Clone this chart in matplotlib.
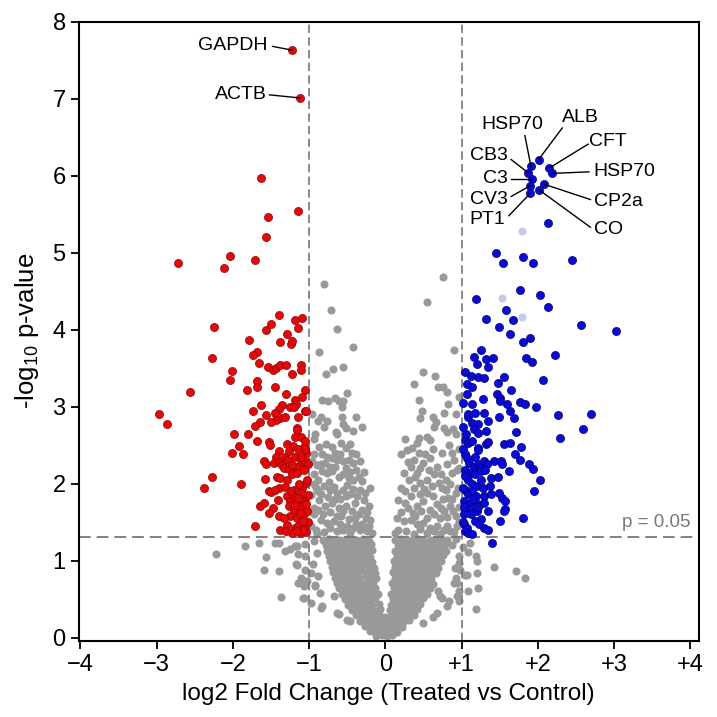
import matplotlib
matplotlib.use("Agg")
import matplotlib.pyplot as plt

plt.rcParams['font.family'] = ['Liberation Sans', 'DejaVu Sans']
plt.rcParams['mathtext.fontset'] = 'custom'
plt.rcParams['mathtext.rm'] = 'Liberation Sans'
plt.rcParams['mathtext.it'] = 'Liberation Sans:italic'
plt.rcParams['axes.unicode_minus'] = True

# ---------------- data (log2FC, -log10 p) ----------------
gray_pts = [
    # sparse upper gray
    (-0.81, 4.59), (-0.71, 4.26), (-0.63, 4.01), (-0.87, 3.71), (-0.42, 3.78),
    (0.75, 4.68), (0.55, 4.36), (0.90, 3.73),
    (-0.69, 3.49), (-0.78, 3.42), (-0.55, 3.52), (0.49, 3.45), (0.65, 3.40),
    (0.37, 3.29), (0.69, 3.25), (0.75, 3.25), (0.81, 3.19), (-0.50, 3.18),
    (-0.83, 3.09), (-0.75, 3.08), (-0.66, 3.11), (-0.61, 3.07), (-0.55, 3.08),
    (0.44, 3.09), (0.96, 3.12), (0.82, 3.03), (-0.57, 2.99), (-0.96, 2.90),
    (-0.84, 2.87), (0.48, 2.94), (0.77, 2.92), (0.92, 2.91), (-0.57, 2.87),
    (-0.39, 2.86), (-0.89, 2.81), (-0.76, 2.81), (0.45, 2.85), (0.63, 2.87),
    (-0.81, 2.74), (-0.55, 2.78), (-0.52, 2.72), (-0.31, 2.73), (-0.42, 2.68),
    (0.67, 2.80), (0.64, 2.74), (0.77, 2.72), (0.81, 2.67), (0.89, 2.71),
    (-0.92, 2.65), (-0.93, 2.58), (-0.65, 2.67), (-0.63, 2.64), (0.26, 2.58),
    (0.44, 2.59), (0.42, 2.53), (0.54, 2.61), (0.59, 2.57), (-0.58, 2.53),
    (-0.94, 2.38), (-0.85, 2.25), (-0.94, 1.99), (-0.94, 1.69),
    # upper arms of the V (1.3 - 2.5)
    (-0.83, 2.38), (-0.76, 2.35), (-0.70, 2.33), (-0.63, 2.31), (-0.59, 2.38),
    (-0.55, 2.29), (-0.48, 2.31), (-0.44, 2.40), (-0.42, 2.27),
    (-0.83, 2.16), (-0.76, 2.14), (-0.70, 2.16), (-0.61, 2.09), (-0.55, 2.12),
    (-0.48, 2.07), (-0.42, 2.05), (-0.35, 2.09), (-0.31, 2.03), (-0.20, 1.94),
    (-0.81, 1.97), (-0.72, 1.92), (-0.63, 1.88), (-0.55, 1.92), (-0.46, 1.86),
    (-0.37, 1.84), (-0.28, 1.79), (-0.22, 1.71),
    (-0.87, 1.79), (-0.79, 1.71), (-0.70, 1.75), (-0.61, 1.68), (-0.52, 1.71),
    (-0.44, 1.64), (-0.35, 1.60), (-0.26, 1.55), (-0.20, 1.53),
    (-0.94, 1.60), (-0.85, 1.53), (-0.76, 1.49), (-0.68, 1.51), (-0.59, 1.47),
    (-0.50, 1.45), (-0.42, 1.42), (-0.33, 1.40), (-0.24, 1.38), (-0.17, 1.36),
    (-0.97, 1.45), (-0.95, 1.62), (-0.97, 1.85), (-0.94, 2.12), (-0.96, 2.30),
    (-0.91, 1.40), (-0.88, 1.90), (-0.66, 1.80), (-0.50, 1.98), (-0.40, 1.75),
    (-0.74, 2.02), (-0.58, 1.58), (-0.30, 1.48), (-0.88, 2.05), (-0.66, 2.22),
    (-0.90, 1.34), (-0.80, 1.37), (-0.72, 1.42), (-0.64, 1.38), (-0.55, 1.40),
    (-0.46, 1.36), (-0.38, 1.47), (-0.28, 1.44), (-0.21, 1.45),
    (-0.89, 1.66), (-0.82, 1.60), (-0.73, 1.63), (-0.64, 1.58), (-0.56, 1.65),
    (-0.48, 1.54), (-0.40, 1.55), (-0.31, 1.66), (-0.24, 1.63),
    (-0.91, 1.95), (-0.84, 1.86), (-0.75, 1.83), (-0.68, 1.96), (-0.59, 1.80),
    (-0.51, 1.84), (-0.43, 1.93), (-0.33, 1.92), (-0.27, 1.88),
    (-0.90, 2.24), (-0.79, 2.27), (-0.72, 2.22), (-0.66, 2.40), (-0.51, 2.20),
    (-0.46, 2.15), (-0.38, 2.18), (-0.28, 2.15),
    (-0.87, 2.48), (-0.78, 2.52), (-0.70, 2.47), (-0.52, 2.46), (-0.46, 2.52),
    (-0.38, 2.38), (-0.33, 2.30),
    (0.20, 2.38), (0.28, 2.44), (0.37, 2.31), (0.44, 2.40), (0.50, 2.27),
    (0.59, 2.33), (0.68, 2.22), (0.74, 2.40), (0.81, 2.25), (0.90, 2.31),
    (0.94, 2.18), (0.87, 2.14),
    (0.24, 2.14), (0.31, 2.05), (0.39, 2.09), (0.46, 2.01), (0.55, 2.05),
    (0.61, 1.97), (0.70, 2.01), (0.79, 1.92), (0.85, 1.99), (0.92, 1.88),
    (0.17, 1.79), (0.26, 1.75), (0.33, 1.84), (0.42, 1.71), (0.50, 1.77),
    (0.59, 1.66), (0.68, 1.73), (0.77, 1.64), (0.85, 1.71), (0.92, 1.58),
    (0.15, 1.55), (0.24, 1.51), (0.33, 1.53), (0.42, 1.47), (0.50, 1.49),
    (0.59, 1.42), (0.68, 1.45), (0.77, 1.40), (0.85, 1.38), (0.94, 1.45),
    (0.96, 1.50), (0.97, 1.70), (0.95, 1.95), (0.97, 2.20), (0.96, 2.45),
    (0.93, 2.65), (0.20, 1.95), (0.36, 1.62), (0.55, 1.88), (0.72, 1.55),
    (0.64, 2.12), (0.46, 2.20), (0.30, 2.28), (0.82, 1.82), (0.13, 1.36),
    (0.17, 1.40), (0.27, 1.38), (0.37, 1.35), (0.46, 1.41), (0.55, 1.36),
    (0.64, 1.39), (0.72, 1.34), (0.81, 1.45), (0.90, 1.37),
    (0.20, 1.63), (0.30, 1.68), (0.39, 1.58), (0.47, 1.64), (0.55, 1.56),
    (0.64, 1.60), (0.73, 1.68), (0.81, 1.57), (0.89, 1.64),
    (0.26, 1.90), (0.38, 1.95), (0.45, 1.86), (0.51, 1.93), (0.62, 1.84),
    (0.75, 1.80), (0.88, 1.80), (0.74, 1.94),
    (0.34, 2.22), (0.42, 2.14), (0.57, 2.18), (0.73, 2.12), (0.80, 2.05),
    (0.88, 2.40), (0.62, 2.45), (0.52, 2.38), (0.35, 2.46), (0.84, 2.50),
    # dense lobes below threshold
    (-0.82, 1.27), (-0.74, 1.28), (-0.67, 1.26), (-0.59, 1.27), (-0.52, 1.28), (-0.44, 1.26), (-0.37, 1.27), (-0.29, 1.28), (-0.21, 1.26),
    (0.13, 1.27), (0.20, 1.28), (0.28, 1.26), (0.35, 1.27), (0.43, 1.28), (0.50, 1.26), (0.58, 1.27), (0.66, 1.28), (0.73, 1.26), (0.81, 1.27),
    (-0.78, 1.20), (-0.70, 1.19), (-0.63, 1.21), (-0.55, 1.20), (-0.48, 1.19), (-0.40, 1.21), (-0.33, 1.20), (-0.25, 1.19), (-0.19, 1.21),
    (0.16, 1.20), (0.24, 1.19), (0.31, 1.21), (0.39, 1.20), (0.47, 1.19), (0.54, 1.21), (0.62, 1.20), (0.70, 1.19), (0.78, 1.21),
    (-0.77, 1.13), (-0.69, 1.12), (-0.61, 1.14), (-0.54, 1.13), (-0.46, 1.12), (-0.39, 1.14), (-0.31, 1.13), (-0.24, 1.12), (-0.18, 1.14),
    (0.12, 1.13), (0.19, 1.12), (0.27, 1.14), (0.35, 1.13), (0.42, 1.12), (0.50, 1.14), (0.57, 1.13), (0.65, 1.12), (0.72, 1.14), (0.79, 1.13),
    (-0.74, 1.06), (-0.66, 1.05), (-0.58, 1.07), (-0.51, 1.06), (-0.43, 1.05), (-0.35, 1.07), (-0.28, 1.06), (-0.20, 1.05),
    (0.15, 1.06), (0.23, 1.05), (0.31, 1.07), (0.38, 1.06), (0.46, 1.05), (0.53, 1.07), (0.61, 1.06), (0.69, 1.05), (0.76, 1.07),
    (-0.73, 0.99), (-0.65, 0.98), (-0.57, 1.00), (-0.49, 0.99), (-0.41, 0.98), (-0.33, 1.00), (-0.25, 0.99), (-0.17, 0.98),
    (0.11, 0.99), (0.19, 0.98), (0.27, 1.00), (0.34, 0.99), (0.42, 0.98), (0.50, 1.00), (0.57, 0.99), (0.65, 0.98), (0.73, 1.00),
    (-0.70, 0.92), (-0.62, 0.91), (-0.54, 0.93), (-0.46, 0.92), (-0.38, 0.91), (-0.30, 0.93), (-0.22, 0.92), (-0.15, 0.91),
    (0.13, 0.92), (0.21, 0.91), (0.29, 0.93), (0.37, 0.92), (0.45, 0.91), (0.53, 0.93), (0.61, 0.92), (0.69, 0.91),
    (-0.69, 0.85), (-0.61, 0.84), (-0.53, 0.86), (-0.45, 0.85), (-0.37, 0.84), (-0.29, 0.86), (-0.21, 0.85), (-0.13, 0.84),
    (0.10, 0.85), (0.17, 0.84), (0.25, 0.86), (0.33, 0.85), (0.41, 0.84), (0.49, 0.86), (0.57, 0.85), (0.66, 0.84),
    (-0.66, 0.78), (-0.58, 0.77), (-0.50, 0.79), (-0.42, 0.78), (-0.34, 0.77), (-0.26, 0.79), (-0.19, 0.78), (-0.12, 0.77),
    (0.12, 0.78), (0.20, 0.77), (0.28, 0.79), (0.36, 0.78), (0.44, 0.77), (0.52, 0.79), (0.60, 0.78),
    (-0.64, 0.71), (-0.56, 0.70), (-0.48, 0.72), (-0.40, 0.71), (-0.32, 0.70), (-0.24, 0.72), (-0.16, 0.71),
    (0.09, 0.71), (0.16, 0.70), (0.24, 0.72), (0.32, 0.71), (0.40, 0.70), (0.48, 0.72), (0.56, 0.71), (0.62, 0.70),
    (-0.61, 0.64), (-0.53, 0.63), (-0.45, 0.65), (-0.37, 0.64), (-0.29, 0.63), (-0.21, 0.65), (-0.13, 0.64),
    (0.11, 0.64), (0.19, 0.63), (0.27, 0.65), (0.35, 0.64), (0.43, 0.63), (0.51, 0.65), (0.58, 0.64),
    (-0.57, 0.57), (-0.49, 0.56), (-0.41, 0.58), (-0.33, 0.57), (-0.25, 0.56), (-0.17, 0.58), (-0.10, 0.57),
    (0.08, 0.57), (0.15, 0.56), (0.23, 0.58), (0.31, 0.57), (0.39, 0.56), (0.47, 0.58), (0.54, 0.57),
    (-0.53, 0.50), (-0.45, 0.49), (-0.37, 0.51), (-0.29, 0.50), (-0.21, 0.49), (-0.13, 0.51),
    (0.10, 0.50), (0.18, 0.49), (0.26, 0.51), (0.34, 0.50), (0.42, 0.49), (0.50, 0.51),
    (-0.49, 0.43), (-0.41, 0.42), (-0.33, 0.44), (-0.25, 0.43), (-0.17, 0.42), (-0.09, 0.44),
    (0.07, 0.43), (0.14, 0.42), (0.22, 0.44), (0.30, 0.43), (0.38, 0.42), (0.46, 0.44),
    (-0.44, 0.36), (-0.36, 0.35), (-0.28, 0.37), (-0.20, 0.36), (-0.12, 0.35), (-0.07, 0.37),
    (0.06, 0.36), (0.11, 0.35), (0.19, 0.37), (0.27, 0.36), (0.35, 0.35), (0.42, 0.37),
    (-0.39, 0.29), (-0.31, 0.28), (-0.23, 0.30), (-0.15, 0.29), (-0.07, 0.28), (0.00, 0.27),
    (0.07, 0.28), (0.15, 0.30), (0.23, 0.29), (0.30, 0.28), (0.37, 0.30),
    (-0.33, 0.22), (-0.26, 0.21), (-0.18, 0.23), (-0.11, 0.22), (-0.04, 0.21), (0.04, 0.22),
    (0.11, 0.23), (0.18, 0.21), (0.25, 0.22), (0.31, 0.23),
    (-0.27, 0.15), (-0.20, 0.14), (-0.13, 0.16), (-0.06, 0.15), (0.01, 0.14), (0.08, 0.16),
    (0.15, 0.15), (0.22, 0.14),
    (-0.20, 0.08), (-0.13, 0.09), (-0.06, 0.07), (0.01, 0.08), (0.08, 0.09), (0.15, 0.07),
    (-0.12, 0.02), (-0.05, 0.03), (0.02, 0.02), (0.09, 0.03),
    # fringe below threshold
    (-0.84, 0.39), (-0.92, 0.67), (-0.61, 0.31), (-0.46, 0.22), (-1.31, 1.13),
    (-1.16, 0.94), (-1.10, 0.77), (-1.03, 0.74), (-1.37, 0.53), (-1.08, 0.52),
    (-1.25, 1.15), (-1.18, 1.19), (-1.14, 1.08), (-1.17, 0.95), (-1.06, 0.88),
    (-1.14, 0.71), (-1.09, 0.75), (-1.06, 1.21), (-2.22, 1.09), (-1.84, 1.19),
    (-1.66, 1.23), (-1.45, 1.23), (-1.39, 1.23), (-1.57, 1.05), (-1.59, 0.88),
    (-1.39, 0.87), (-1.07, 0.51), (-1.07, 0.67), (-0.83, 0.41), (-0.92, 0.69),
    (-1.16, 1.19), (-1.05, 1.06), (-0.98, 0.84), (-0.68, 0.54), (-0.50, 0.23),
    (-0.63, 0.32), (-0.90, 1.10), (-0.95, 0.95), (-0.88, 0.80), (-0.93, 1.25),
    (-0.86, 0.58), (-0.98, 0.45),
    (1.42, 0.92), (1.72, 0.86), (1.83, 0.78), (1.19, 1.06), (1.20, 0.99),
    (1.08, 1.11), (1.11, 1.23), (1.20, 0.84), (1.07, 0.81), (1.21, 0.64),
    (1.08, 0.61), (1.19, 0.37), (0.96, 1.06), (0.97, 0.97), (0.98, 0.88),
    (0.94, 0.71), (0.96, 0.60), (0.96, 0.47), (1.04, 0.82), (0.91, 0.91),
    (0.93, 0.78), (0.74, 0.52), (0.62, 0.27), (0.83, 0.48), (0.69, 0.61),
    (0.90, 0.71), (0.94, 0.54), (0.68, 0.32), (0.50, 0.19), (0.81, 0.41),
    (0.72, 0.54), (0.88, 1.20), (0.92, 1.28), (1.02, 1.18),
]

red_pts = [
    (-1.22, 7.63), (-1.12, 7.01), (-1.63, 5.97), (-1.14, 5.54), (-1.54, 5.47),
    (-1.57, 5.20), (-2.72, 4.87), (-2.04, 4.96), (-2.11, 4.80), (-1.71, 4.90),
    (-1.39, 4.19), (-1.09, 4.15), (-1.19, 4.13), (-1.50, 4.08), (-1.14, 4.02),
    (-1.57, 4.00), (-2.25, 4.03), (-1.29, 3.94), (-1.79, 3.86), (-1.38, 3.84),
    (-1.24, 3.82), (-1.23, 3.85), (-1.68, 3.71), (-1.74, 3.67), (-2.27, 3.63),
    (-1.66, 3.57), (-1.54, 3.51), (-1.47, 3.48), (-1.43, 3.50), (-1.38, 3.54),
    (-1.30, 3.54), (-1.11, 3.54), (-1.10, 3.47), (-1.22, 3.42), (-2.01, 3.46),
    (-2.04, 3.34), (-1.68, 3.33), (-1.69, 3.25), (-1.82, 3.21), (-1.45, 3.25),
    (-2.56, 3.19), (-1.05, 3.22), (-1.30, 3.16), (-1.09, 3.12), (-1.19, 3.09),
    (-1.17, 3.04), (-1.35, 3.02), (-1.25, 3.00), (-1.20, 3.00), (-1.40, 2.97),
    (-1.05, 2.95), (-1.63, 3.02), (-1.73, 2.94), (-2.97, 2.91), (-2.87, 2.77),
    (-1.57, 2.89), (-1.45, 2.92), (-1.38, 2.85), (-1.32, 2.87), (-1.43, 2.83),
    (-1.15, 2.87), (-1.04, 2.94), (-1.64, 2.80), (-1.50, 2.80), (-1.71, 2.75),
    (-1.16, 2.72), (-1.99, 2.64), (-1.80, 2.64), (-1.69, 2.56), (-1.16, 2.70),
    (-1.19, 2.61), (-1.11, 2.61), (-1.52, 2.54), (-1.51, 2.50), (-1.29, 2.52),
    (-1.92, 2.49), (-2.01, 2.40), (-1.87, 2.39), (-1.40, 2.43), (-1.21, 2.49),
    (-1.07, 2.48), (-1.04, 2.40), (-1.43, 2.35), (-1.32, 2.35), (-1.28, 2.31),
    (-1.59, 2.29), (-1.56, 2.26), (-1.46, 2.27), (-1.40, 2.28), (-1.35, 2.24),
    (-1.18, 2.35), (-1.11, 2.27), (-1.16, 2.22), (-1.06, 2.29), (-1.33, 2.20),
    (-1.26, 2.19), (-2.27, 2.09), (-2.38, 1.94), (-1.90, 1.99), (-1.58, 2.06),
    (-1.42, 2.09), (-1.38, 2.07), (-1.29, 2.05), (-1.22, 2.12), (-1.16, 2.14),
    (-1.07, 2.18), (-1.53, 1.90), (-1.50, 1.89), (-1.40, 1.94), (-1.31, 1.96),
    (-1.20, 1.92), (-1.09, 1.94), (-1.04, 2.01), (-1.41, 1.79), (-1.29, 1.84),
    (-1.25, 1.77), (-1.19, 1.83), (-1.14, 1.75), (-1.07, 1.79), (-1.65, 1.71),
    (-1.59, 1.75), (-1.47, 1.69), (-1.53, 1.62), (-1.27, 1.71), (-1.20, 1.66),
    (-1.11, 1.70), (-1.04, 1.73), (-1.39, 1.58), (-1.25, 1.58), (-1.16, 1.55),
    (-1.07, 1.60), (-1.71, 1.45), (-1.29, 1.46), (-1.38, 1.40), (-1.19, 1.42),
    (-1.14, 1.45), (-1.05, 1.45), (-1.22, 1.36), (-1.11, 1.36), (-1.04, 1.37),
    (-1.02, 1.50), (-1.03, 1.65), (-1.02, 1.85), (-1.03, 2.05), (-1.02, 2.25),
    (-1.05, 2.45), (-1.08, 1.52), (-1.12, 1.62), (-1.09, 1.88), (-1.13, 2.00),
    (-1.15, 1.82), (-1.18, 1.72), (-1.24, 1.90), (-1.10, 2.35), (-1.14, 2.45),
    (-1.05, 2.55), (-1.26, 2.42), (-1.08, 1.40), (-1.16, 1.38), (-1.30, 1.38),
    (-1.33, 1.55), (-1.45, 1.92), (-1.22, 2.24),
]

blue_pts = [
    (2.01, 6.21), (1.91, 6.12), (1.87, 6.04), (2.15, 6.10), (2.19, 6.03),
    (1.92, 5.96), (1.90, 5.87), (2.08, 5.89), (2.01, 5.82), (1.90, 5.77),
    (2.13, 5.39), (1.45, 4.99), (1.81, 4.95), (1.54, 4.86), (1.94, 4.86),
    (2.45, 4.90), (1.77, 4.52), (2.03, 4.45), (1.19, 4.40), (2.13, 4.29),
    (1.58, 4.26), (1.32, 4.14), (1.67, 4.13), (2.56, 4.06), (3.03, 3.98),
    (1.49, 4.04), (1.63, 3.94), (1.90, 3.89), (1.81, 3.84), (1.26, 3.73),
    (1.16, 3.65), (2.22, 3.67), (1.32, 3.62), (1.41, 3.63), (1.20, 3.55),
    (1.34, 3.51), (1.85, 3.63), (1.92, 3.58), (1.21, 3.39), (1.29, 3.37),
    (1.55, 3.39), (2.07, 3.35), (1.07, 3.30), (1.13, 3.26), (1.48, 3.31),
    (1.65, 3.21), (1.07, 3.16), (1.28, 3.10), (1.46, 3.16), (1.50, 3.11),
    (1.50, 3.08), (1.59, 3.03), (1.76, 3.06), (1.83, 3.03), (1.98, 3.00),
    (1.14, 3.03), (2.27, 2.89), (2.70, 2.91), (1.64, 2.94), (1.69, 2.85),
    (1.18, 2.92), (1.29, 2.92), (1.49, 2.87), (1.08, 2.86), (1.13, 2.79),
    (1.21, 2.78), (1.35, 2.82), (1.02, 2.74), (1.16, 2.71), (1.21, 2.66),
    (1.32, 2.69), (2.59, 2.71), (1.71, 2.67), (2.29, 2.59), (1.05, 2.57),
    (1.09, 2.53), (1.14, 2.55), (1.21, 2.46), (1.22, 2.44), (1.32, 2.52),
    (1.35, 2.54), (1.56, 2.51), (1.64, 2.53), (1.78, 2.48), (1.04, 2.38),
    (1.07, 2.33), (1.70, 2.39), (1.77, 2.31), (1.88, 2.26), (1.94, 2.19),
    (1.10, 2.27), (1.16, 2.22), (1.22, 2.26), (1.26, 2.22), (1.30, 2.29),
    (1.33, 2.25), (1.42, 2.29), (1.52, 2.29), (1.53, 2.26), (1.62, 2.16),
    (1.05, 2.18), (1.11, 2.14), (1.18, 2.12), (1.25, 2.16), (1.31, 2.18),
    (1.38, 2.07), (1.48, 2.09), (2.03, 2.05), (1.09, 2.05), (1.14, 2.00),
    (1.20, 1.97), (1.37, 1.97), (1.95, 1.91), (1.04, 1.92), (1.09, 1.86),
    (1.13, 1.90), (1.19, 1.84), (1.29, 1.84), (1.38, 1.87), (1.49, 1.88),
    (1.53, 1.81), (1.57, 1.78), (1.03, 1.77), (1.11, 1.75), (1.22, 1.73),
    (1.29, 1.75), (1.05, 1.68), (1.11, 1.67), (1.20, 1.64), (1.35, 1.64),
    (1.57, 1.67), (1.55, 1.64), (1.03, 1.60), (1.80, 1.56), (1.18, 1.51),
    (1.25, 1.54), (1.23, 1.48), (1.51, 1.51), (1.03, 1.47), (1.07, 1.42),
    (1.29, 1.42), (1.34, 1.40), (1.04, 1.38), (1.09, 1.36), (1.14, 1.35),
    (1.40, 1.23),
    (1.02, 1.50), (1.03, 1.70), (1.02, 1.95), (1.04, 2.10), (1.02, 2.45),
    (1.06, 2.65), (1.12, 1.60), (1.15, 1.80), (1.18, 2.35), (1.25, 2.05),
    (1.28, 1.95), (1.22, 1.70), (1.09, 2.90), (1.02, 3.05), (1.12, 3.40),
    (1.05, 3.45),
]

faint_pts = [(1.79, 5.28), (1.53, 4.41), (1.79, 4.17)]

gene_names = ["GAPDH", "ACTB", "HSP70", "ALB", "CFT", "HSP70",
              "CP2a", "CO", "CB3", "C3", "CV3", "PT1"]
gene_x = [-1.22, -1.12, 1.91, 2.01, 2.15, 2.19, 2.08, 2.01, 1.87, 1.92, 1.90, 1.90]
gene_y = [7.63, 7.01, 6.12, 6.21, 6.10, 6.03, 5.89, 5.82, 6.04, 5.96, 5.87, 5.77]

x_ticks = [-4, -3, -2, -1, 0, 1, 2, 3, 4]
x_tick_labels = ["\u22124", "\u22123", "\u22122", "\u22121", "0", "+1", "+2", "+3", "+4"]
y_ticks = [0, 1, 2, 3, 4, 5, 6, 7, 8]
fc_cut = 1.0
p_cut = 1.301

# label layout: text position, alignment, leader-line start (data coords)
label_pos = [(-1.55, 7.69, 'right', -1.48, 7.68),
             (-1.55, 7.06, 'right', -1.52, 7.05),
             (1.67, 6.67, 'center', 1.83, 6.52),
             (2.32, 6.75, 'left', 2.32, 6.62),
             (2.67, 6.45, 'left', 2.66, 6.41),
             (2.73, 6.05, 'left', 2.67, 6.05),
             (2.74, 5.67, 'left', 2.69, 5.69),
             (2.74, 5.30, 'left', 2.69, 5.33),
             (1.61, 6.26, 'right', 1.65, 6.21),
             (1.61, 5.96, 'right', 1.65, 5.96),
             (1.61, 5.69, 'right', 1.65, 5.73),
             (1.57, 5.43, 'right', 1.62, 5.48)]

# ---------------- figure ----------------
fig = plt.figure(figsize=(7.17, 7.17), dpi=100)
ax = fig.add_axes([0.110, 0.1064, 0.8645, 0.8633])

ms = 34
gx, gy = zip(*gray_pts)
ax.scatter(gx, gy, s=ms, color='#999999', linewidths=0, zorder=1)
ax.axvline(-fc_cut, color='#777777', ls=(0, (5, 2.6)), lw=1.2, zorder=2)
ax.axvline(fc_cut, color='#777777', ls=(0, (5, 2.6)), lw=1.2, zorder=2)
ax.axhline(p_cut, color='#777777', ls=(0, (6.5, 3.3)), lw=1.3, zorder=2)
rx, ry = zip(*red_pts)
ax.scatter(rx, ry, s=ms, color='#e00a0a', edgecolors='#9a0000', linewidths=0.5, zorder=3)
bx, by = zip(*blue_pts)
ax.scatter(bx, by, s=ms, color='#0a0ad2', edgecolors='#000080', linewidths=0.5, zorder=3)
fx, fy = zip(*faint_pts)
ax.scatter(fx, fy, s=ms, color='#c9c9ef', linewidths=0, zorder=3)

for name, px, py, (tx, ty, ha, lx, ly) in zip(gene_names, gene_x, gene_y, label_pos):
    ax.text(tx, ty, name, ha=ha, va='center', fontsize=14, color='black', zorder=5)
    ax.plot([lx, px], [ly, py], color='black', lw=1.0, zorder=4)

ax.text(4.0, 1.49, "p = 0.05", ha='right', va='center', fontsize=13.5, color='#777777')

ax.set_xlim(-4.02, 4.11)
ax.set_ylim(-0.04, 8.0)
ax.set_xticks(x_ticks)
ax.set_xticklabels(x_tick_labels)
ax.set_yticks(y_ticks)
ax.tick_params(axis='both', labelsize=17, length=6, width=1.3, direction='out', color='black')
for s in ax.spines.values():
    s.set_linewidth(1.5)
ax.set_xlabel("log2 Fold Change (Treated vs Control)", fontsize=17.5, labelpad=5)
ax.set_ylabel(r"-log$_{10}$ p-value", fontsize=18.5, labelpad=8)

fig.savefig("out.png", dpi=100, facecolor='white')
